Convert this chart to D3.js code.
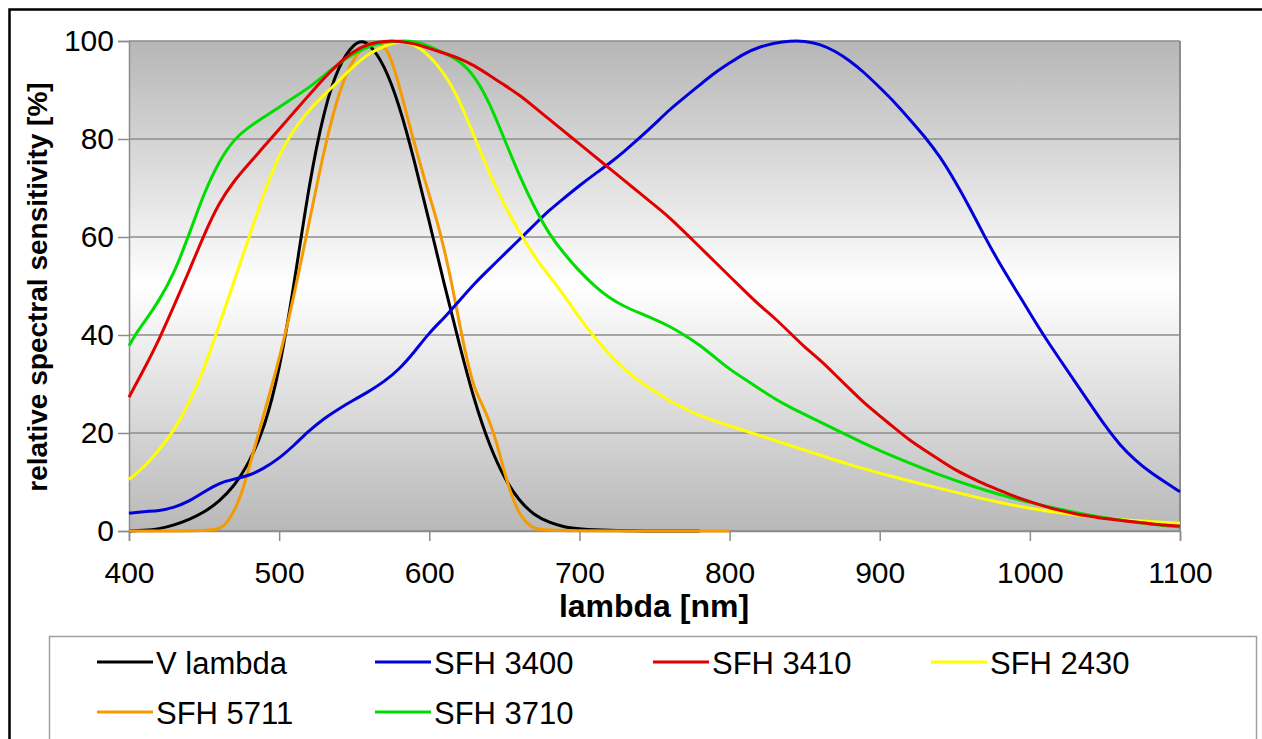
<!DOCTYPE html>
<html>
<head>
<meta charset="utf-8">
<script src="https://cdn.jsdelivr.net/npm/d3@7"></script>
<style>
  body { margin: 0; background: #fff; }
  text { font-family: "Liberation Sans", Arial, sans-serif; fill: #000; }
</style>
</head>
<body>
<svg id="chart" width="1262" height="739"></svg>
<script>
// values: [wavelength nm, relative sensitivity %]
var vLambda = [[400,0],[410,0.1],[420,0.4],[430,1.2],[440,2.3],[450,3.8],[460,6],[470,9.1],[480,13.9],[490,20.8],[500,32.3],[510,50.3],[520,71],[530,86.2],[540,95.4],[550,99.5],[555,100],[560,99.5],[570,95.2],[580,87],[590,75.7],[600,63.1],[610,50.3],[620,38.1],[630,26.5],[640,17.5],[650,10.7],[660,6.1],[670,3.2],[680,1.7],[690,0.8],[700,0.4],[720,0.1],[740,0],[780,0]];
var sfh3400 = [[400,3.6],[410,4],[420,4.1],[430,4.8],[440,6],[450,8],[460,9.8],[470,10.6],[480,11.3],[490,12.8],[500,14.8],[510,17.5],[520,20.5],[530,23],[540,25],[550,26.8],[560,28.5],[570,30.5],[580,33],[590,36.5],[600,40.5],[610,43.5],[620,47],[630,50.5],[640,53.5],[650,56.5],[660,59.5],[670,62.5],[680,65.5],[690,68],[700,70.5],[710,72.8],[720,75],[730,77.5],[740,80.2],[750,83],[760,86],[770,88.5],[780,91],[790,93.5],[800,95.5],[810,97.5],[820,98.8],[830,99.6],[840,100],[850,100],[860,99.4],[870,98],[880,96],[890,93.5],[900,90.5],[910,87.5],[920,84],[930,80.5],[940,76.5],[950,71.5],[960,66],[970,60],[980,54.5],[990,49.5],[1000,44.5],[1010,39.5],[1020,35],[1030,30.5],[1040,26],[1050,21.5],[1060,17.5],[1070,14.5],[1080,12],[1090,10],[1100,8]];
var sfh3410 = [[400,27.3],[410,33],[420,39],[430,46],[440,53],[450,60.5],[460,67],[470,71.5],[480,75],[490,78.5],[500,82],[510,85.5],[520,89],[530,92.5],[540,95.5],[550,98],[560,99.5],[570,100],[580,100],[590,99.5],[600,98.5],[610,97.5],[620,96.5],[630,95],[640,93],[650,91],[660,89],[670,86.5],[680,84],[690,81.5],[700,79],[710,76.5],[720,74],[730,71.5],[740,69],[750,66.5],[760,64],[770,61],[780,58],[790,55],[800,52],[810,49],[820,46],[830,43.5],[840,40.5],[850,37.5],[860,35],[870,32],[880,29],[890,26],[900,23.5],[910,21],[920,18.5],[930,16.5],[940,14.5],[950,12.5],[960,11],[970,9.5],[980,8.3],[990,7],[1000,6],[1010,5],[1020,4.2],[1030,3.5],[1040,3],[1050,2.5],[1060,2.2],[1070,1.8],[1080,1.5],[1090,1.2],[1100,1]];
var sfh2430 = [[400,10.5],[410,13],[420,16.5],[430,20.5],[440,26],[450,33],[460,42],[470,51],[480,60],[490,69],[500,77],[510,82],[520,86],[530,89],[540,92],[550,95],[560,97.5],[570,99],[580,100],[590,99.5],[600,97],[610,93.5],[620,88],[630,80.5],[640,73],[650,66.5],[660,61],[670,56],[680,52],[690,48],[700,43.5],[710,39.5],[720,36],[730,33],[740,30.5],[750,28.5],[760,26.5],[770,25],[780,23.5],[790,22.5],[800,21.5],[820,19.5],[840,17.5],[860,15.5],[880,13.5],[900,11.8],[920,10.2],[940,8.7],[960,7.2],[980,5.8],[1000,4.6],[1020,3.7],[1040,2.9],[1060,2.3],[1080,1.9],[1100,1.6]];
var sfh5711 = [[400,0],[450,0],[460,0.3],[465,1.5],[470,4],[475,7.5],[480,13],[485,18.5],[490,24],[495,29.5],[500,35],[510,48],[520,63],[530,78],[540,90],[550,97],[560,100],[570,99.5],[575,96],[580,91],[590,79],[600,68.5],[605,63.5],[610,57.5],[615,50.5],[620,42.5],[625,35],[630,29],[635,26],[640,22.5],[645,18],[650,12],[655,7],[660,3.5],[665,1.5],[670,0.4],[680,0],[800,0]];
var sfh3710 = [[400,37.8],[405,40.5],[410,42.5],[420,47],[430,52.5],[440,60.5],[450,69],[460,75.5],[470,80],[480,82.5],[490,84.5],[500,86.5],[510,88.5],[520,90.5],[530,93],[540,95.5],[550,97.5],[560,99],[570,99.8],[580,100],[590,100],[600,99],[610,97.5],[620,96],[630,93],[640,87.5],[650,80],[660,72.5],[670,66],[680,60.5],[690,56.5],[700,53],[710,50],[720,47.5],[730,45.8],[740,44.5],[750,43.2],[760,41.8],[770,40],[780,38],[790,35.5],[800,33],[810,31],[820,29],[830,27],[840,25.3],[850,23.8],[860,22.3],[870,20.8],[880,19.3],[890,17.8],[900,16.4],[920,13.8],[940,11.4],[960,9.3],[980,7.4],[1000,5.8],[1020,4.4],[1040,3.2],[1060,2.2],[1080,1.4],[1100,0.8]];

var seriesNames = ["V lambda", "SFH 3400", "SFH 3410", "SFH 2430", "SFH 5711", "SFH 3710"];
var seriesColors = ["#000000", "#0000dd", "#e00000", "#ffff00", "#f59a00", "#00dd00"];
var seriesData = [vLambda, sfh3400, sfh3410, sfh2430, sfh5711, sfh3710];
var drawOrder = [0, 4, 1, 3, 5, 2]; // which is on top

var xTicks = [400, 500, 600, 700, 800, 900, 1000, 1100];
var yTicks = [0, 20, 40, 60, 80, 100];

var svg = d3.select("#chart");

// frame round the whole picture
svg.append("rect")
    .attr("x", 9.5).attr("y", 9.5)
    .attr("width", 1300).attr("height", 800)
    .attr("fill", "none").attr("stroke", "#000").attr("stroke-width", 2.5);

var pLeft = 129, pRight = 1180, pTop = 41, pBottom = 531;

var x = d3.scaleLinear().domain([400, 1100]).range([pLeft, pRight]);
var y = d3.scaleLinear().domain([0, 100]).range([pBottom, pTop]);

// plot background gradient
var defs = svg.append("defs");
var grad = defs.append("linearGradient").attr("id", "bg")
    .attr("x1", 0).attr("y1", 0).attr("x2", 0).attr("y2", 1);
grad.append("stop").attr("offset", "0%").attr("stop-color", "#b6b6b6");
grad.append("stop").attr("offset", "50%").attr("stop-color", "#ffffff");
grad.append("stop").attr("offset", "100%").attr("stop-color", "#b8b8b8");

svg.append("rect")
    .attr("x", pLeft).attr("y", pTop)
    .attr("width", pRight - pLeft).attr("height", pBottom - pTop)
    .attr("fill", "url(#bg)");

// grid
svg.append("g").selectAll("line")
    .data(yTicks)
    .enter().append("line")
    .attr("x1", pLeft).attr("x2", pRight)
    .attr("y1", function(d) { return y(d); })
    .attr("y2", function(d) { return y(d); })
    .attr("stroke", "#8c8c8c").attr("stroke-width", 1.5);

svg.append("line")
    .attr("x1", pRight).attr("x2", pRight).attr("y1", pTop).attr("y2", pBottom)
    .attr("stroke", "#8c8c8c").attr("stroke-width", 2);

// axes
var yAxis = d3.axisLeft(y).tickValues(yTicks).tickFormat(d3.format("d")).tickSize(11).tickPadding(4);
var gy = svg.append("g").attr("transform", "translate(" + pLeft + ",0)").call(yAxis);
var xAxis = d3.axisBottom(x).tickValues(xTicks).tickFormat(d3.format("d")).tickSize(10).tickPadding(21);
var gx = svg.append("g").attr("transform", "translate(0," + pBottom + ")").call(xAxis);

[gx, gy].forEach(function(g) {
  g.selectAll(".domain").attr("stroke", "#8c8c8c").attr("stroke-width", 1.5);
  g.selectAll(".tick line").attr("stroke", "#8c8c8c").attr("stroke-width", 1.5);
  g.selectAll(".tick text")
    .style("font-family", "'Liberation Sans', Arial, sans-serif")
    .style("font-size", "30px")
    .attr("fill", "#000");
});

// curves
var line = d3.line()
    .x(function(d) { return x(d[0]); })
    .y(function(d) { return y(d[1]); })
    .curve(d3.curveBasis);

svg.append("g").selectAll("path")
    .data(drawOrder)
    .enter().append("path")
    .attr("d", function(i) { return line(seriesData[i]); })
    .attr("fill", "none")
    .attr("stroke", function(i) { return seriesColors[i]; })
    .attr("stroke-width", 3)
    .attr("stroke-linejoin", "round");

// axis titles
svg.append("text")
    .attr("x", 654).attr("y", 617)
    .attr("text-anchor", "middle")
    .style("font-size", "32px").style("font-weight", "bold")
    .text("lambda [nm]");

svg.append("text")
    .attr("transform", "translate(47,287) rotate(-90)")
    .attr("text-anchor", "middle")
    .style("font-size", "28px").style("font-weight", "bold")
    .text("relative spectral sensitivity [%]");

// legend
svg.append("rect")
    .attr("x", 49.5).attr("y", 636.5)
    .attr("width", 1207).attr("height", 200)
    .attr("fill", "#fff").attr("stroke", "#a0a0a0").attr("stroke-width", 1.5);

var legend = svg.append("g").selectAll("g")
    .data(seriesNames)
    .enter().append("g")
    .attr("transform", function(d, i) {
      return "translate(" + (97 + (i % 4) * 278) + "," + (662 + Math.floor(i / 4) * 50) + ")";
    });

legend.append("line")
    .attr("x1", 0).attr("x2", 56)
    .attr("stroke", function(d, i) { return seriesColors[i]; })
    .attr("stroke-width", 3);

legend.append("text")
    .attr("x", 59).attr("y", 12)
    .style("font-size", "31px")
    .text(function(d) { return d; });
</script>
</body>
</html>
